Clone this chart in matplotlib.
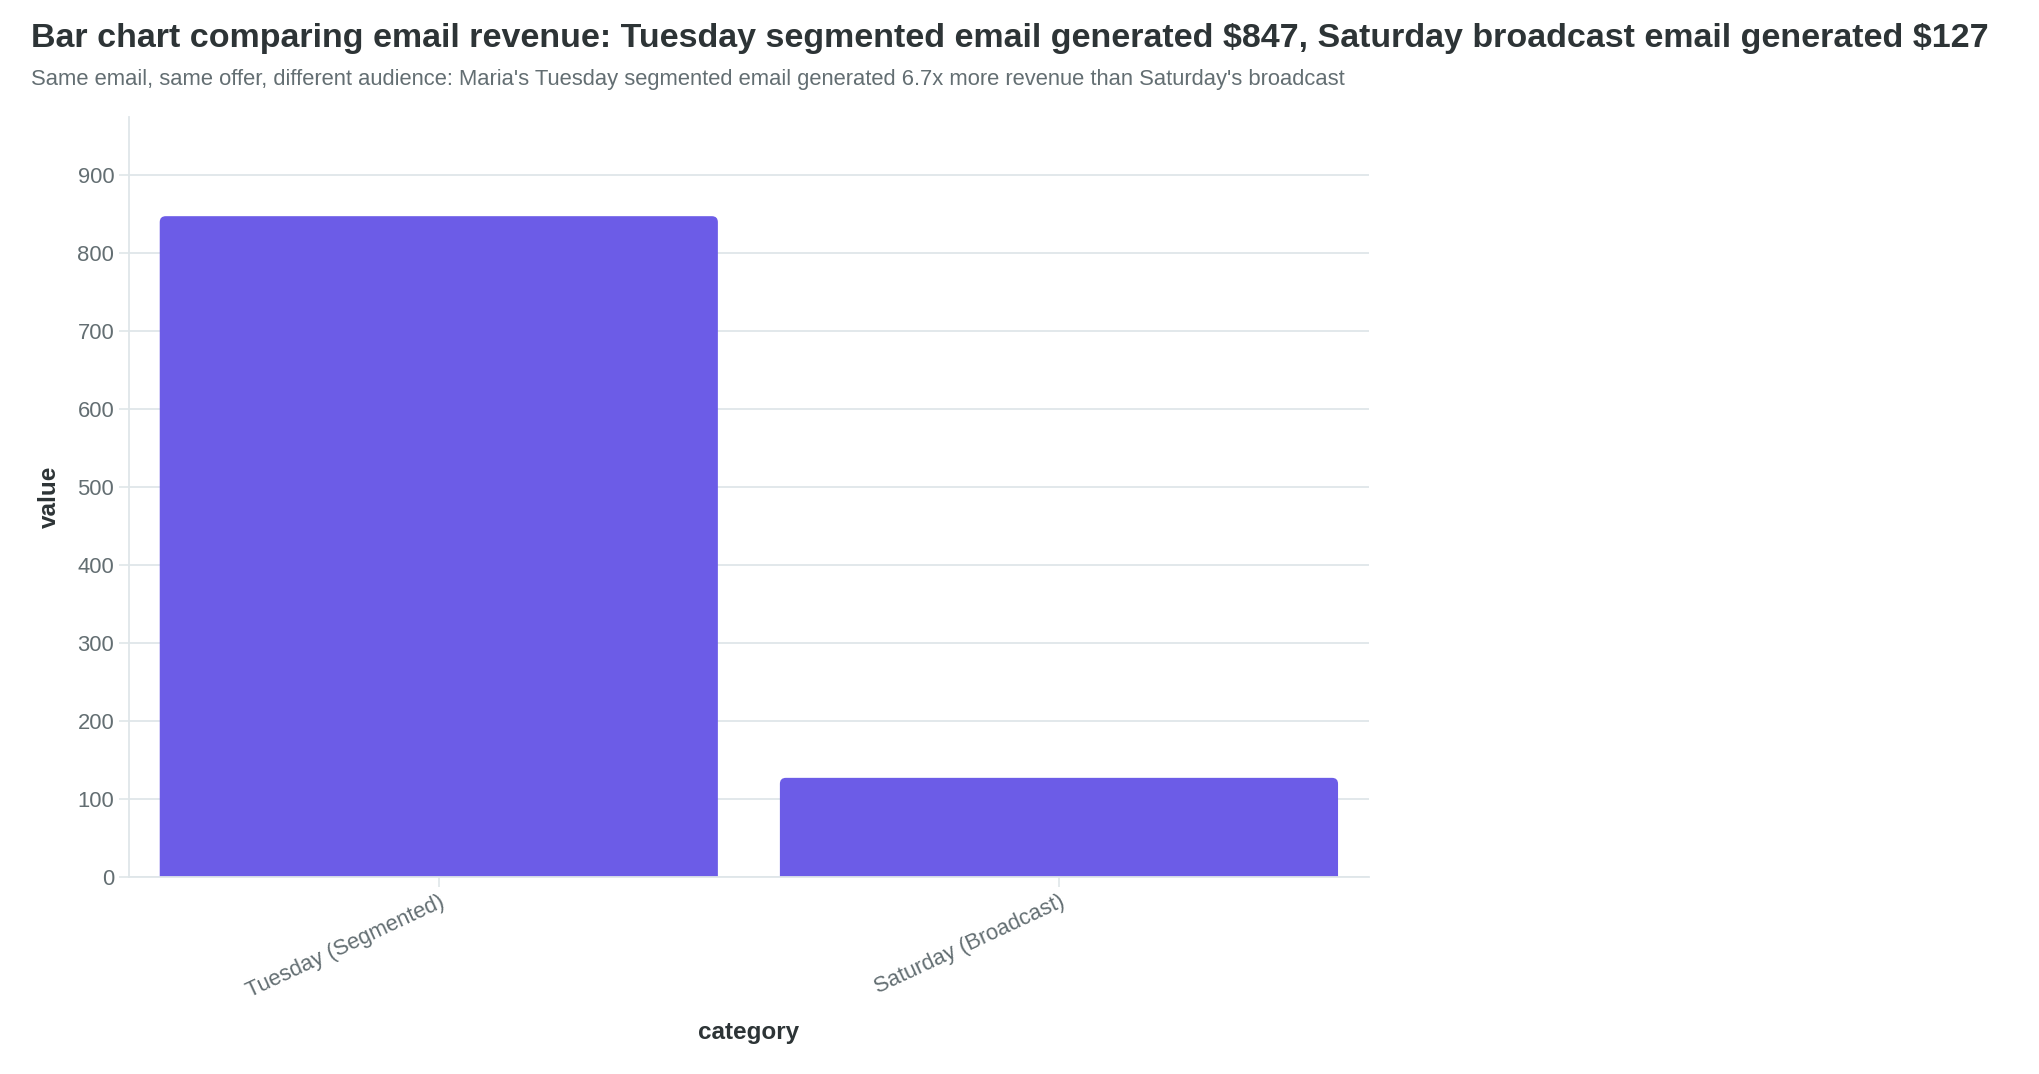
import matplotlib.pyplot as plt
from matplotlib.patches import FancyBboxPatch

categories = ["Tuesday (Segmented)", "Saturday (Broadcast)"]
revenue = [847, 127]

title = (r"Bar chart comparing email revenue: Tuesday segmented email generated \$847, "
         r"Saturday broadcast email generated \$127")
subtitle = ("Same email, same offer, different audience: Maria's Tuesday segmented email "
            "generated 6.7x more revenue than Saturday's broadcast")

plt.rcParams['font.family'] = ['Liberation Sans', 'DejaVu Sans']

fig = plt.figure(figsize=(20.4, 10.74), dpi=100)
ax = fig.add_axes([0.0631, 0.1835, 0.608, 0.7075])

x = range(len(categories))
bars = ax.bar(x, revenue, width=0.9, color="#6c5ce7", zorder=3)

ax.set_xlim(-0.5, 1.5)
ax.set_ylim(0, max(revenue) * 1.15)

# swap the square bars for ones with rounded top corners
fig.canvas.draw()
inv = ax.transData.inverted()
p0 = inv.transform((0, 0))
p1 = inv.transform((1, 1))
ux, uy = p1[0] - p0[0], p1[1] - p0[1]  # data units per pixel
r = 6
for b in bars:
    bx, by = b.get_x(), b.get_y()
    w, h = b.get_width(), b.get_height()
    b.set_visible(False)
    ax.add_patch(FancyBboxPatch((bx, by - 2 * r * uy), w, h + 2 * r * uy,
                                boxstyle=f"round,pad=0,rounding_size={r * ux}",
                                mutation_aspect=uy / ux, facecolor="#6c5ce7",
                                edgecolor="none", zorder=3))

ax.set_yticks(range(0, 1000, 100))
ax.set_xticks(list(x))
ax.set_xticklabels(categories, rotation=25, ha="right", rotation_mode="anchor")

ax.grid(axis="y", color="#dfe6e9", linewidth=1.3, zorder=0)
for s in ["top", "right"]:
    ax.spines[s].set_visible(False)
for s in ["left", "bottom"]:
    ax.spines[s].set_color("#dfe6e9")
    ax.spines[s].set_linewidth(1.3)
    ax.spines[s].set_zorder(4)
ax.tick_params(axis="both", colors="#dfe6e9", labelcolor="#636e72",
               labelsize=15.8, length=7, width=1.2)

ax.set_xlabel("category", fontsize=17.5, fontweight="bold", color="#2d3436", labelpad=14)
ax.set_ylabel("value", fontsize=17.5, fontweight="bold", color="#2d3436", labelpad=12)

fig.text(0.0153, 0.964, title, fontsize=24.5, fontweight="bold", color="#2d3436", va="center")
fig.text(0.0153, 0.926, subtitle, fontsize=15.8, color="#636e72", va="center")

fig.savefig("out.png", dpi=100, facecolor="white")
